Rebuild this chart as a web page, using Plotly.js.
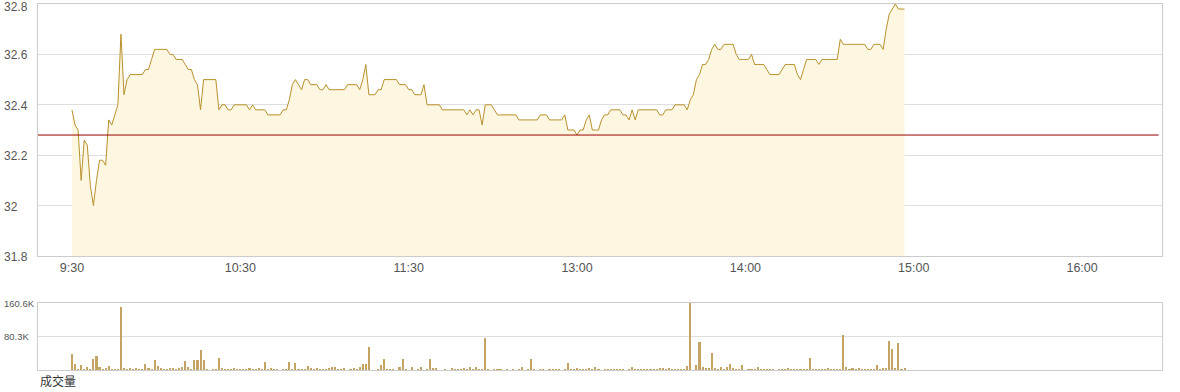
<!DOCTYPE html>
<html>
<head>
<meta charset="utf-8">
<script src="https://cdn.plot.ly/plotly-3.0.1.min.js"></script>
<style>html,body{margin:0;padding:0;background:#fff;}#chart{width:1180px;height:392px;}</style>
</head>
<body>
<div id="chart"></div>
<script>
// minute index from 9:30 (axis spans 9:30 .. 16:00 in 330 trading minutes)
const tickMinutes = [0, 55, 110, 165, 220, 275, 330];
const tickLabels = ["9:30", "10:30", "11:30", "13:00", "14:00", "15:00", "16:00"];
const priceTicks = [31.8, 32, 32.2, 32.4, 32.6, 32.8];
const priceTickLabels = ["31.8", "32", "32.2", "32.4", "32.6", "32.8"];
const volTicks = [80.3, 160.6];
const volTickLabels = ["80.3K", "160.6K"];
const prevClose = 32.28;
const volumeLabel = "成交量";

const prices = [
32.38,32.32,32.30,32.10,32.26,32.24,32.08,32.00,32.10,32.18,
32.18,32.16,32.34,32.32,32.36,32.40,32.68,32.44,32.50,32.52,
32.52,32.52,32.52,32.52,32.54,32.54,32.58,32.62,32.62,32.62,
32.62,32.62,32.60,32.60,32.58,32.58,32.58,32.56,32.54,32.54,
32.50,32.48,32.38,32.50,32.50,32.50,32.50,32.50,32.38,32.40,
32.40,32.38,32.38,32.40,32.40,32.40,32.40,32.40,32.38,32.40,
32.38,32.38,32.38,32.38,32.36,32.36,32.36,32.36,32.36,32.38,
32.38,32.42,32.48,32.50,32.48,32.46,32.50,32.50,32.48,32.48,
32.48,32.46,32.46,32.48,32.46,32.46,32.46,32.46,32.46,32.46,
32.48,32.48,32.48,32.48,32.46,32.50,32.56,32.44,32.44,32.44,
32.46,32.46,32.50,32.50,32.50,32.50,32.50,32.48,32.48,32.48,
32.46,32.46,32.44,32.44,32.44,32.48,32.40,32.40,32.40,32.40,
32.40,32.38,32.38,32.38,32.38,32.38,32.38,32.38,32.38,32.36,
32.38,32.36,32.38,32.38,32.32,32.40,32.40,32.40,32.38,32.36,
32.36,32.36,32.36,32.36,32.36,32.36,32.34,32.34,32.34,32.34,
32.34,32.34,32.34,32.36,32.36,32.36,32.34,32.34,32.34,32.34,
32.34,32.36,32.30,32.30,32.30,32.28,32.30,32.30,32.34,32.36,
32.30,32.30,32.30,32.34,32.36,32.36,32.38,32.38,32.38,32.38,
32.36,32.36,32.34,32.38,32.34,32.38,32.38,32.38,32.38,32.38,
32.38,32.38,32.36,32.36,32.38,32.38,32.38,32.40,32.40,32.40,
32.40,32.38,32.42,32.44,32.50,32.52,32.56,32.56,32.58,32.62,
32.64,32.62,32.62,32.64,32.64,32.64,32.64,32.60,32.58,32.58,
32.58,32.58,32.60,32.56,32.56,32.56,32.56,32.54,32.52,32.52,
32.52,32.52,32.54,32.56,32.56,32.56,32.56,32.52,32.50,32.54,
32.58,32.58,32.58,32.58,32.56,32.58,32.58,32.58,32.58,32.58,
32.58,32.66,32.64,32.64,32.64,32.64,32.64,32.64,32.64,32.64,
32.62,32.62,32.64,32.64,32.64,32.62,32.70,32.76,32.78,32.80,
32.78,32.78,32.78
];

// volume in thousands of shares
const volumes = [
38.4,14.4,3,12,3,7,3,26.4,33.6,7,
3,5,9.6,3,3,3,151,5,3,5,
3,5,3,3,14.4,5,3,24,9.6,5,
3,3,5,5,3,5,8,22.4,8,3,
24,24,48,24,3,0,3,3,28.8,5,
3,3,3,5,3,3,3,3,5,3,
3,5,3,19.2,3,5,3,3,0,3,
3,19.2,3,16.8,3,3,3,9.6,5,3,
5,3,3,3,5,7,7,3,3,5,
0,3,5,3,7,14.4,14.4,55,0,0,
3,12,26.4,3,3,3,0,7,26.4,3,
0,7,0,3,7,0,3,26.4,5,5,
0,0,3,0,5,3,3,3,5,3,
7,3,7,3,3,76.7,3,0,3,3,
3,0,3,0,3,0,3,7,0,3,
26.4,3,0,3,3,0,3,3,3,3,
0,3,16.8,3,3,5,3,3,3,5,
3,7,3,0,3,3,3,3,3,3,
3,0,3,7,3,3,3,3,3,3,
3,3,5,5,3,5,3,3,3,3,
3,9.6,160.6,0,12,67,7,5,5,40.7,
5,3,7,3,7,14.4,5,3,3,12,
0,3,3,3,7,3,3,3,3,3,
0,3,3,3,5,3,3,3,3,3,
3,28.8,3,3,3,3,3,5,3,3,
3,3,83.9,7,3,5,3,5,3,3,
3,3,3,12,3,5,5,69.5,50.3,5,
64.7,3,5
];

const minutes = prices.map((_, i) => i);

const lineColor = "#b8912c";
const fillColor = "#fdf6e1";
const barColor = "#c4a462";
const gridColor = "#dedede";
const borderColor = "#cccccc";
const labelFont = {family: "Liberation Sans, Arial, sans-serif", size: 12, color: "#555"};

const traces = [
  {
    x: minutes, y: prices, type: "scatter", mode: "lines",
    line: {color: lineColor, width: 1},
    fill: "tozeroy", fillcolor: fillColor,
    xaxis: "x", yaxis: "y", hoverinfo: "x+y"
  },
  {
    x: minutes, y: volumes, type: "bar",
    marker: {color: barColor, line: {width: 0}},
    width: 0.68,
    xaxis: "x2", yaxis: "y2"
  }
];

const annotations = [];
priceTicks.forEach((v, i) => {
  annotations.push({
    xref: "paper", yref: "y", x: -36 / 1124, y: v, xanchor: "left", yanchor: "middle",
    yshift: (i === priceTicks.length - 1) ? -3 : -1,
    text: priceTickLabels[i], showarrow: false, font: labelFont
  });
});
volTicks.forEach((v, i) => {
  annotations.push({
    xref: "paper", yref: "y2", x: -36 / 1124, y: v, xanchor: "left", yanchor: "middle",
    text: volTickLabels[i], showarrow: false,
    font: {family: "Liberation Sans, Arial, sans-serif", size: 9.5, color: "#555"}
  });
});
annotations.push({
  xref: "paper", yref: "paper", x: 0, y: (370 - 380) / 366, xanchor: "left", yanchor: "middle",
  text: volumeLabel, showarrow: false,
  font: {family: "Noto Sans CJK SC, sans-serif", size: 12, color: "#333"}
});

const xRange = [-11.1, 356.1];

const layout = {
  width: 1180, height: 392,
  margin: {l: 38, r: 18, t: 4, b: 22, pad: 0},
  paper_bgcolor: "#fff", plot_bgcolor: "#fff",
  showlegend: false,
  bargap: 0,
  xaxis: {
    domain: [0, 1], anchor: "y", range: xRange,
    tickmode: "array", tickvals: tickMinutes, ticktext: tickLabels,
    showgrid: false, zeroline: false, ticks: "", ticklen: 0,
    showline: true, linecolor: borderColor, linewidth: 1, mirror: true,
    tickfont: {family: "Liberation Sans, Arial, sans-serif", size: 12.5, color: "#555"}
  },
  yaxis: {
    domain: [(370 - 256) / 366, 1], anchor: "x", range: [31.8, 32.8],
    tickmode: "array", tickvals: priceTicks, showticklabels: false,
    showgrid: true, gridcolor: gridColor, gridwidth: 1, zeroline: false,
    showline: true, linecolor: borderColor, linewidth: 1, mirror: true, ticks: ""
  },
  xaxis2: {
    domain: [0, 1], anchor: "y2", range: xRange, matches: "x",
    showticklabels: false, showgrid: false, zeroline: false, ticks: "",
    showline: true, linecolor: borderColor, linewidth: 1, mirror: true
  },
  yaxis2: {
    domain: [0, (370 - 303) / 366], anchor: "x2", range: [0, 160.6],
    tickmode: "array", tickvals: volTicks, showticklabels: false,
    showgrid: true, gridcolor: gridColor, gridwidth: 1, zeroline: false,
    showline: true, linecolor: borderColor, linewidth: 1, mirror: true, ticks: ""
  },
  shapes: [{
    type: "line", xref: "paper", yref: "y", x0: 0, x1: 0.997, y0: prevClose, y1: prevClose,
    line: {color: "#9c0000", width: 1}
  }],
  annotations: annotations
};

Plotly.newPlot("chart", traces, layout, {displayModeBar: false, staticPlot: true});
</script>
</body>
</html>
